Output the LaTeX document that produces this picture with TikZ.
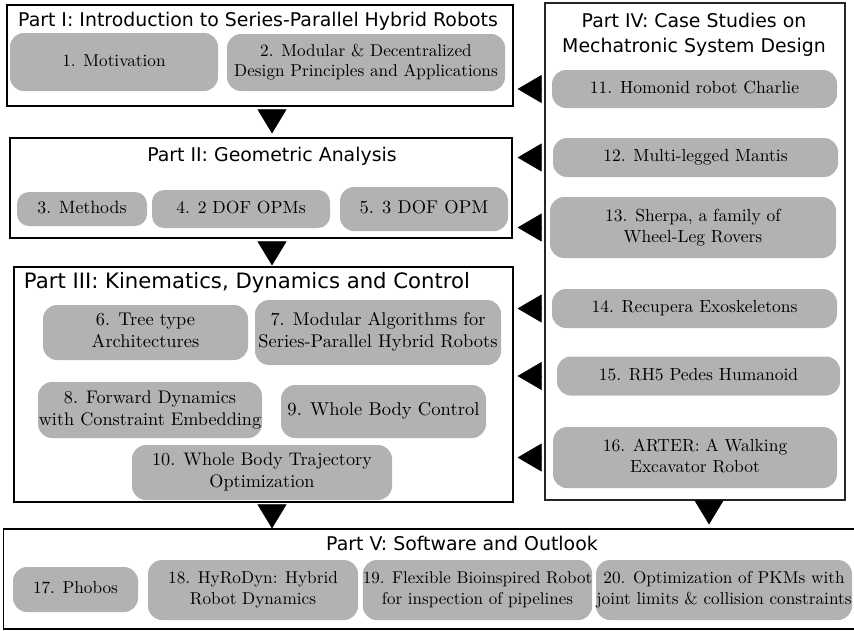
\documentclass[tikz,border=0pt]{standalone}
\usepackage{fontspec}
\usepackage{graphicx}
\newfontfamily\titlefont{DejaVu Sans}
\usetikzlibrary{arrows.meta}
\newcommand\bx[2][1.72]{\scalebox{#1}{\begin{tabular}{@{}c@{}}#2\end{tabular}}}
\tikzset{
  part/.style={draw=black, line width=1.2pt, fill=none, inner sep=0pt, minimum width=#1},
  ptitle/.style={font=\titlefont\fontsize{18.9}{25}\selectfont, inner sep=0pt, align=center},
  box/.style={fill=black!30, rounded corners=14pt, inner sep=0pt, align=center},
  tri/.style={line width=0.4pt, -{Triangle[length=24pt,width=29pt]}},
  tril/.style={line width=0.4pt, -{Triangle[length=24pt,width=28pt]}}
}
\begin{document}
\begin{tikzpicture}[x=1pt,y=-1pt]
\useasboundingbox (0,0) rectangle (854,630);
% part frames
\node[part=506pt, minimum height=101pt] (P1) at (260,55.5) {};
\node[part=502pt, minimum height=100pt] (P2) at (261,188) {};
\node[part=499pt, minimum height=235pt] (P3) at (263.5,384.5) {};
\node[part=300pt, minimum height=497pt, draw=black!85] (P4) at (695,251.5) {};
\node[part=851pt, minimum height=100pt] (P5) at (429,579) {};
% titles
\node[ptitle] (t1) at (258,21) {Part I: Introduction to Series-Parallel Hybrid Robots};
\node[ptitle] (t2) at (272,156) {Part II: Geometric Analysis};
\node[ptitle, font=\titlefont\fontsize{21.2}{25}\selectfont] (t3) at (247,283) {Part III: Kinematics, Dynamics and Control};
\node[ptitle] (t4) at (694,35) {Part IV: Case Studies on\\Mechatronic System Design};
\node[ptitle] (t5) at (462,543) {Part V: Software and Outlook};
% Part I
\node[box, minimum width=208pt, minimum height=58pt] (n1) at (114,62) {\bx{1. Motivation}};
\node[box, minimum width=278pt, minimum height=57pt] (n2) at (366,62.5) {\bx{2. Modular \& Decentralized\\Design Principles and Applications}};
% Part II
\node[box, minimum width=130pt, minimum height=34pt, rounded corners=12pt] (n3) at (82,209) {\bx[1.78]{3. Methods}};
\node[box, minimum width=178pt, minimum height=38pt, rounded corners=12pt] (n4) at (241,209) {\bx[1.76]{4. 2 DOF OPMs}};
\node[box, minimum width=168pt, minimum height=44pt] (n5) at (424,209) {\bx[1.85]{5. 3 DOF OPM}};
% Part III
\node[box, minimum width=205pt, minimum height=55pt] (n6) at (145.5,332.5) {\bx[1.84]{6. Tree type\\Architectures}};
\node[box, minimum width=246pt, minimum height=65pt] (n7) at (378,332.5) {\bx[1.84]{7. Modular Algorithms for\\Series-Parallel Hybrid Robots}};
\node[box, minimum width=224pt, minimum height=56pt] (n8) at (150,410) {\bx[1.82]{8. Forward Dynamics\\with Constraint Embedding}};
\node[box, minimum width=205pt, minimum height=53pt] (n9) at (383.5,411.5) {\bx[1.86]{9. Whole Body Control}};
\node[box, minimum width=260pt, minimum height=55pt] (n10) at (262,472.5) {\bx[1.82]{10. Whole Body Trajectory\\Optimization}};
% Part IV
\node[box, minimum width=285pt, minimum height=38pt] (n11) at (694.5,89) {\bx[1.76]{11. Homonid robot Charlie}};
\node[box, minimum width=285pt, minimum height=39pt] (n12) at (695.5,157.5) {\bx[1.75]{12. Multi-legged Mantis}};
\node[box, minimum width=286pt, minimum height=61pt] (n13) at (693,227.5) {\bx[1.75]{13. Sherpa, a family of\\Wheel-Leg Rovers}};
\node[box, minimum width=285pt, minimum height=39pt] (n14) at (694.5,308.5) {\bx[1.75]{14. Recupera Exoskeletons}};
\node[box, minimum width=283pt, minimum height=39pt] (n15) at (698.5,376) {\bx[1.75]{15. RH5 Pedes Humanoid}};
\node[box, minimum width=284pt, minimum height=61pt] (n16) at (695,457.5) {\bx[1.75]{16. ARTER: A Walking\\Excavator Robot}};
% Part V
\node[box, minimum width=125pt, minimum height=45pt] (n17) at (75.5,589.5) {\bx{17. Phobos}};
\node[box, minimum width=210pt, minimum height=60pt] (n18) at (253,590) {\bx{18. HyRoDyn: Hybrid\\Robot Dynamics}};
\node[box, minimum width=223pt, minimum height=60pt] (n19) at (477.5,590) {\bx[1.7]{19. Flexible Bioinspired Robot\\for inspection of pipelines}};
\node[box, minimum width=256pt, minimum height=60pt] (n20) at (724,590) {\bx{20. Optimization of PKMs with\\joint limits \& collision constraints}};
% down connectors
\coordinate (ax) at (272,0);
\coordinate (bx) at (709,0);
\draw[tri, shorten <=4pt, shorten >=4pt] (P1.south -| ax) -- (P2.north -| ax);
\draw[tri, shorten <=4pt, shorten >=1pt] (P2.south -| ax) -- (P3.north -| ax);
\draw[tri, shorten <=3pt, shorten >=0pt] (P3.south -| ax) -- (P5.north -| ax);
\draw[tri, shorten <=1pt, shorten >=4pt] (P4.south -| bx) -- (P5.north -| bx);
% left connectors
\draw[tril, shorten <=4pt, shorten >=4pt] (P4.west |- n11.west) -- (P1.east |- n11.west);
\draw[tril, shorten <=4pt, shorten >=5pt] (P4.west |- n12.west) -- (P2.east |- n12.west);
\draw[tril, shorten <=4pt, shorten >=5pt] (P4.west |- n13.west) -- (P2.east |- n13.west);
\draw[tril, shorten <=4pt, shorten >=4pt] (P4.west |- n14.west) -- (P3.east |- n14.west);
\draw[tril, shorten <=4pt, shorten >=4pt] (P4.west |- n15.west) -- (P3.east |- n15.west);
\draw[tril, shorten <=4pt, shorten >=4pt] (P4.west |- n16.west) -- (P3.east |- n16.west);
\end{tikzpicture}
\end{document}
